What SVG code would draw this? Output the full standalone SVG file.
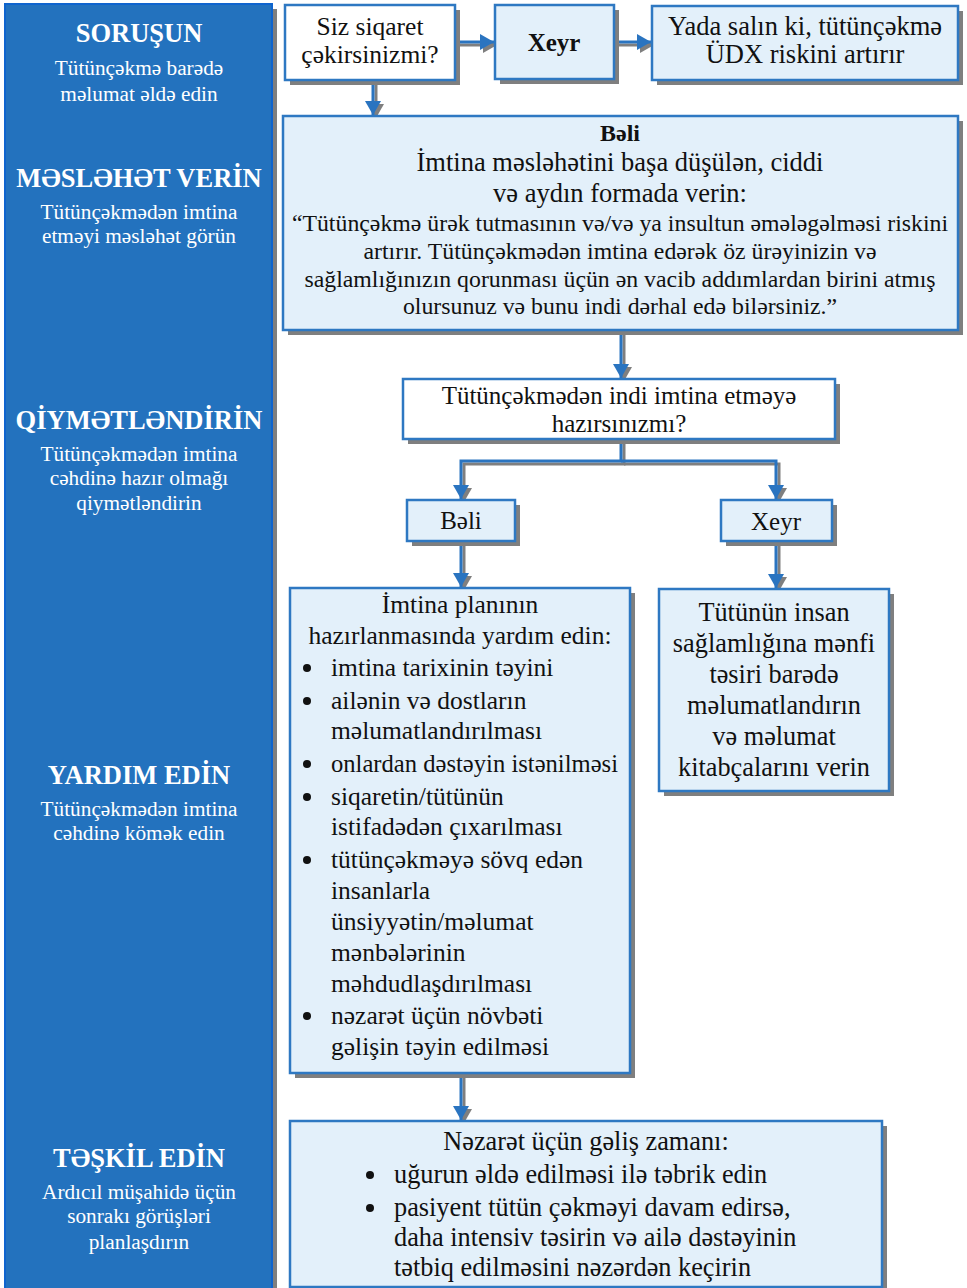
<svg xmlns="http://www.w3.org/2000/svg" width="967" height="1288" viewBox="0 0 967 1288">
<defs>
<style>
.t{font-family:"Liberation Serif","DejaVu Serif Condensed","DejaVu Serif","Times New Roman",serif;fill:#111;}
.c{text-anchor:middle;}
.lh{font-family:"Liberation Serif","DejaVu Serif Condensed","DejaVu Serif",serif;fill:#fff;font-weight:bold;font-size:26.5px;text-anchor:middle;}
.ls{font-family:"Liberation Serif","DejaVu Serif Condensed","DejaVu Serif",serif;fill:#fff;font-size:21.3px;text-anchor:middle;}
.bx{stroke:#2E78C2;stroke-width:2.5;}
.lt{fill:#E3F0FA;}
.wh{fill:#fff;}
.sh{fill:#7F7F7F;}
.bu{fill:#111;}
.con{fill:none;stroke:#2A74C0;stroke-width:3;}
.csh{fill:none;stroke:#7F7F7F;stroke-width:3;}
</style>
<marker id="ah" viewBox="0 0 14 16" refX="14" refY="8" markerWidth="14" markerHeight="16" markerUnits="userSpaceOnUse" orient="auto"><path d="M0,0 L14,8 L0,16 z" fill="#2A74C0"/></marker>
<marker id="ahs" viewBox="0 0 14 16" refX="14" refY="8" markerWidth="14" markerHeight="16" markerUnits="userSpaceOnUse" orient="auto"><path d="M0,0 L14,8 L0,16 z" fill="#7F7F7F"/></marker>
</defs>

<g id="left-panel">
<rect x="9" y="9" width="268" height="1290" class="sh"/>
<rect x="5" y="4" width="267" height="1290" fill="#2372BE" stroke="#0F64CE" stroke-width="2"/>
<text class="lh" x="139" y="42">SORUŞUN</text>
<text class="ls" x="139" y="75">Tütünçəkmə barədə</text>
<text class="ls" x="139" y="101">məlumat əldə edin</text>
<text class="lh" x="139" y="187">MƏSLƏHƏT VERİN</text>
<text class="ls" x="139" y="219">Tütünçəkmədən imtina</text>
<text class="ls" x="139" y="243">etməyi məsləhət görün</text>
<text class="lh" x="139" y="429">QİYMƏTLƏNDİRİN</text>
<text class="ls" x="139" y="461">Tütünçəkmədən imtina</text>
<text class="ls" x="139" y="485">cəhdinə hazır olmağı</text>
<text class="ls" x="139" y="510">qiymətləndirin</text>
<text class="lh" x="139" y="784">YARDIM EDİN</text>
<text class="ls" x="139" y="816">Tütünçəkmədən imtina</text>
<text class="ls" x="139" y="840">cəhdinə kömək edin</text>
<text class="lh" x="139" y="1167">TƏŞKİL EDİN</text>
<text class="ls" x="139" y="1199">Ardıcıl müşahidə üçün</text>
<text class="ls" x="139" y="1223">sonrakı görüşləri</text>
<text class="ls" x="139" y="1249">planlaşdırın</text>
</g>

<g id="connectors">
<g>
<path class="csh" d="M458,45 H497" marker-end="url(#ahs)"/>
<path class="csh" d="M617,45 H654" marker-end="url(#ahs)"/>
<path class="csh" d="M376,83 V118" marker-end="url(#ahs)"/>
<path class="csh" d="M624,333 V381" marker-end="url(#ahs)"/>
<path class="csh" d="M624,442 V464 H464 V502" marker-end="url(#ahs)"/>
<path class="csh" d="M624,464 H779 V502" marker-end="url(#ahs)"/>
<path class="csh" d="M464,544 V590" marker-end="url(#ahs)"/>
<path class="csh" d="M779,544 V591" marker-end="url(#ahs)"/>
<path class="csh" d="M464,1076 V1123" marker-end="url(#ahs)"/>
</g>
<path class="con" d="M455,42 H494" marker-end="url(#ah)"/>
<path class="con" d="M614,42 H651" marker-end="url(#ah)"/>
<path class="con" d="M373,80 V115" marker-end="url(#ah)"/>
<path class="con" d="M621,330 V378" marker-end="url(#ah)"/>
<path class="con" d="M621,439 V461 H461 V499" marker-end="url(#ah)"/>
<path class="con" d="M621,461 H776 V499" marker-end="url(#ah)"/>
<path class="con" d="M461,541 V587" marker-end="url(#ah)"/>
<path class="con" d="M776,541 V588" marker-end="url(#ah)"/>
<path class="con" d="M461,1073 V1120" marker-end="url(#ah)"/>
</g>

<g id="ask">
<rect x="290" y="10" width="170" height="75" class="sh"/>
<rect x="285" y="5" width="170" height="75" class="bx wh"/>
<text class="t c" x="370" y="35" font-size="25.5">Siz siqaret</text>
<text class="t c" x="370" y="63" font-size="25.5">çəkirsinizmi?</text>
</g>

<g id="no1">
<rect x="500" y="10" width="119" height="74" class="sh"/>
<rect x="495" y="5" width="119" height="74" class="bx lt"/>
<text class="t c" x="554" y="51" font-size="25" font-weight="bold">Xeyr</text>
</g>

<g id="remind">
<rect x="657" y="11" width="306" height="74" class="sh"/>
<rect x="652" y="6" width="306" height="74" class="bx lt"/>
<text class="t c" x="805" y="35" font-size="26.5">Yada salın ki, tütünçəkmə</text>
<text class="t c" x="805" y="63" font-size="26.5">ÜDX riskini artırır</text>
</g>

<g id="advise">
<rect x="288" y="121" width="675" height="214" class="sh"/>
<rect x="283" y="116" width="675" height="214" class="bx lt"/>
<text class="t c" x="620" y="141" font-size="24" font-weight="bold">Bəli</text>
<text class="t c" x="620" y="171" font-size="26.5">İmtina məsləhətini başa düşülən, ciddi</text>
<text class="t c" x="620" y="202" font-size="26.5">və aydın formada verin:</text>
<text class="t c" x="620" y="231" font-size="23.8">“Tütünçəkmə ürək tutmasının və/və ya insultun əmələgəlməsi riskini</text>
<text class="t c" x="620" y="259" font-size="23.8">artırır. Tütünçəkmədən imtina edərək öz ürəyinizin və</text>
<text class="t c" x="620" y="287" font-size="23.8">sağlamlığınızın qorunması üçün ən vacib addımlardan birini atmış</text>
<text class="t c" x="620" y="314" font-size="23.8">olursunuz və bunu indi dərhal edə bilərsiniz.”</text>
</g>

<g id="ready">
<rect x="408" y="384" width="432" height="60" class="sh"/>
<rect x="403" y="379" width="432" height="60" class="bx wh"/>
<text class="t c" x="619" y="404" font-size="25">Tütünçəkmədən indi imtina etməyə</text>
<text class="t c" x="619" y="432" font-size="25">hazırsınızmı?</text>
</g>

<g id="yes2">
<rect x="412" y="505" width="108" height="41" class="sh"/>
<rect x="407" y="500" width="108" height="41" class="bx lt"/>
<text class="t c" x="461" y="529" font-size="25">Bəli</text>
</g>

<g id="no2">
<rect x="726" y="505" width="111" height="41" class="sh"/>
<rect x="721" y="500" width="111" height="41" class="bx lt"/>
<text class="t c" x="776" y="530" font-size="25">Xeyr</text>
</g>

<g id="help">
<rect x="295" y="593" width="340" height="485" class="sh"/>
<rect x="290" y="588" width="340" height="485" class="bx lt"/>
<g class="bu">
<circle cx="307" cy="668" r="4"/>
<circle cx="307" cy="701" r="4"/>
<circle cx="307" cy="764" r="4"/>
<circle cx="307" cy="797" r="4"/>
<circle cx="307" cy="860" r="4"/>
<circle cx="307" cy="1016" r="4"/>
</g>
<g class="t" font-size="25.5">
<text class="c" x="460" y="613">İmtina planının</text>
<text class="c" x="460" y="644">hazırlanmasında yardım edin:</text>
<text x="331" y="676">imtina tarixinin təyini</text>
<text x="331" y="709">ailənin və dostların</text>
<text x="331" y="739">məlumatlandırılması</text>
<text x="331" y="772" textLength="287" lengthAdjust="spacingAndGlyphs">onlardan dəstəyin istənilməsi</text>
<text x="331" y="805">siqaretin/tütünün</text>
<text x="331" y="835">istifadədən çıxarılması</text>
<text x="331" y="868">tütünçəkməyə sövq edən</text>
<text x="331" y="899">insanlarla</text>
<text x="331" y="930">ünsiyyətin/məlumat</text>
<text x="331" y="961">mənbələrinin</text>
<text x="331" y="992">məhdudlaşdırılması</text>
<text x="331" y="1024">nəzarət üçün növbəti</text>
<text x="331" y="1055">gəlişin təyin edilməsi</text>
</g>
</g>

<g id="inform">
<rect x="664" y="594" width="230" height="202" class="sh"/>
<rect x="659" y="589" width="230" height="202" class="bx lt"/>
<g class="t c" font-size="26.3">
<text x="774" y="621">Tütünün insan</text>
<text x="774" y="652">sağlamlığına mənfi</text>
<text x="774" y="683">təsiri barədə</text>
<text x="774" y="714">məlumatlandırın</text>
<text x="774" y="745">və məlumat</text>
<text x="774" y="776">kitabçalarını  verin</text>
</g>
</g>

<g id="followup">
<rect x="295" y="1126" width="592" height="166" class="sh"/>
<rect x="290" y="1121" width="592" height="166" class="bx lt"/>
<g class="bu">
<circle cx="370" cy="1175" r="4"/>
<circle cx="370" cy="1208" r="4"/>
</g>
<g class="t" font-size="26.3">
<text class="c" x="586" y="1150">Nəzarət üçün gəliş zamanı:</text>
<text x="394" y="1183">uğurun əldə edilməsi ilə təbrik edin</text>
<text x="394" y="1216">pasiyent tütün çəkməyi davam edirsə,</text>
<text x="394" y="1246">daha intensiv təsirin və ailə dəstəyinin</text>
<text x="394" y="1276">tətbiq edilməsini nəzərdən keçirin</text>
</g>
</g>
</svg>
